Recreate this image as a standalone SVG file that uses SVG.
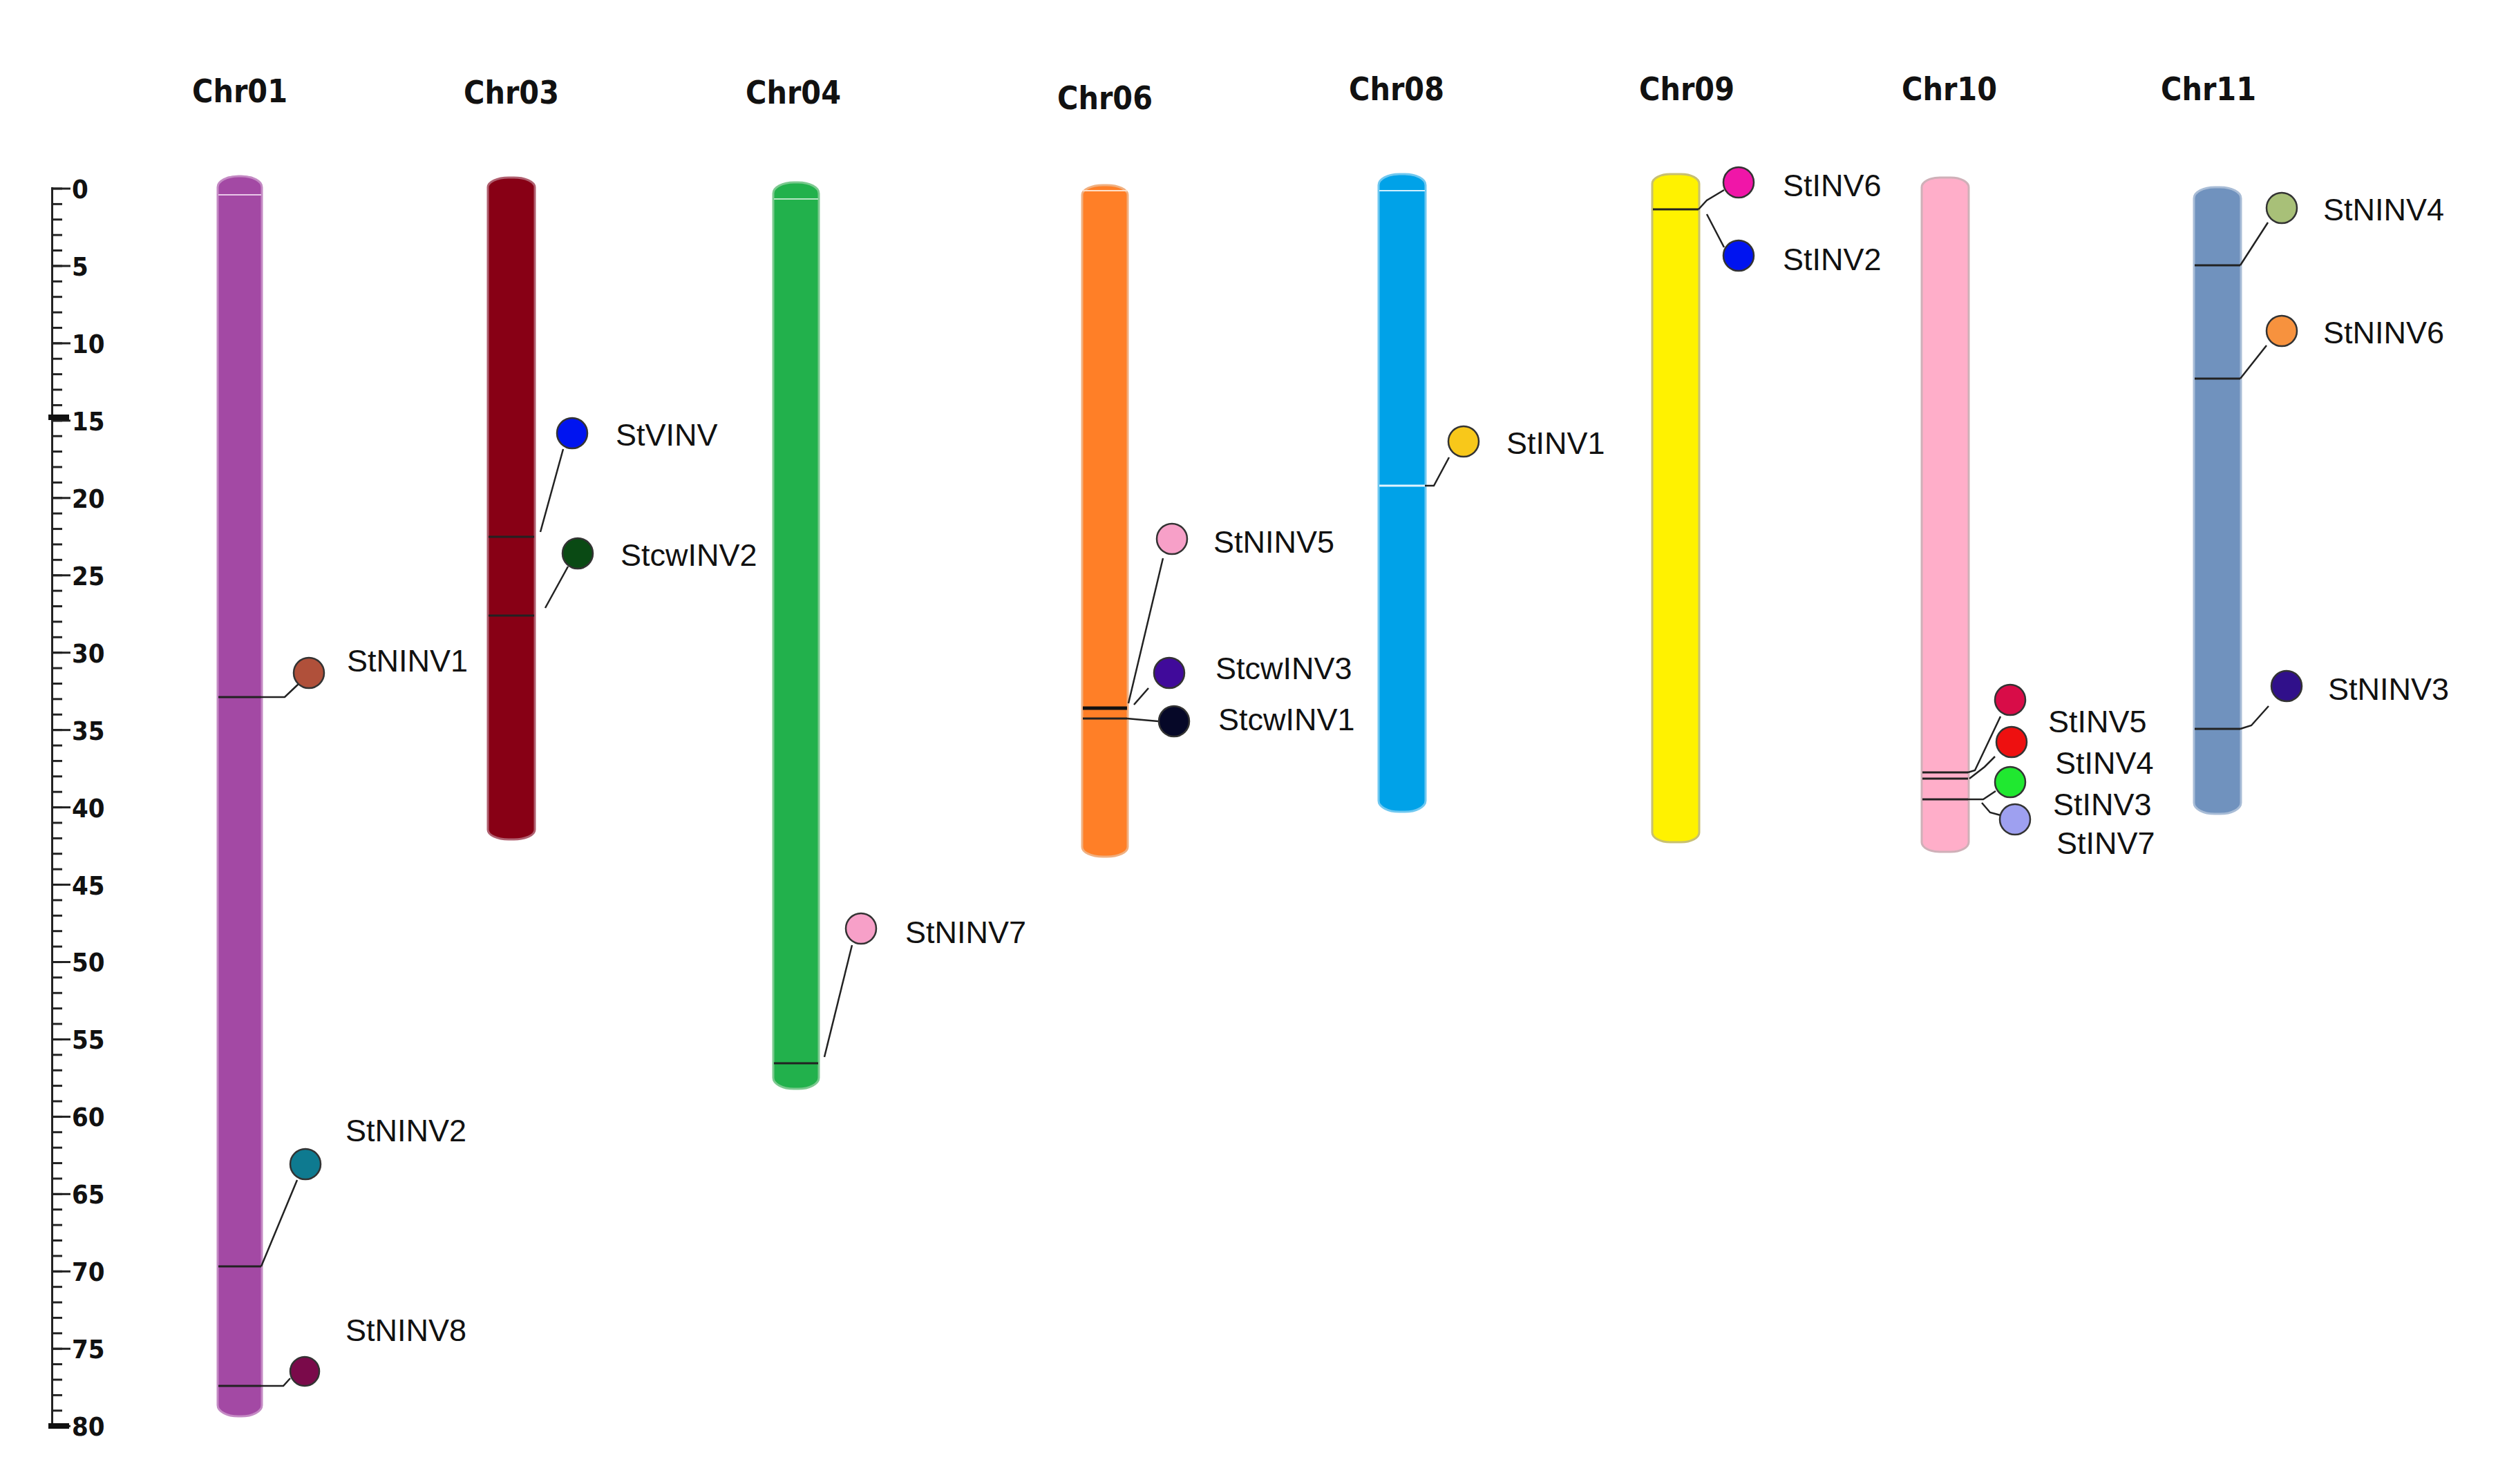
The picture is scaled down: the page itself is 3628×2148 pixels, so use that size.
<svg xmlns="http://www.w3.org/2000/svg" width="3628" height="2148" viewBox="0 0 3628 2148">
<defs>
<style>
.chrl{font-family:"DejaVu Sans",sans-serif;font-stretch:condensed;font-weight:bold;font-size:46px;text-anchor:middle;fill:#111}
.rl{font-family:"DejaVu Sans",sans-serif;font-stretch:condensed;font-weight:bold;font-size:38px;fill:#111}
.g{font-family:"Liberation Sans",Arial,sans-serif;font-size:45px;fill:#111;dominant-baseline:central}
.band{stroke:#222;stroke-width:3}
.lead{stroke:#222;stroke-width:2.5;fill:none}
.dot{stroke:#333;stroke-width:2.5}
</style>
<pattern id="minor" patternUnits="userSpaceOnUse" x="76" y="271.5" width="40" height="22.39"><rect x="0" y="0" width="14" height="3" fill="#222"/></pattern>
<pattern id="major" patternUnits="userSpaceOnUse" x="76" y="271.5" width="40" height="111.95"><rect x="0" y="0" width="26" height="3" fill="#222"/></pattern>
</defs>
<rect width="3628" height="2148" fill="#fff"/>
<g id="ruler">
<rect x="74" y="271" width="3" height="1797" fill="#222"/>
<rect x="76" y="271" width="40" height="1797" fill="url(#minor)"/>
<rect x="76" y="271" width="40" height="1797" fill="url(#major)"/>
<rect x="70" y="600" width="30" height="8" fill="#111"/>
<rect x="70" y="2060" width="30" height="8" fill="#111"/>
<text class="rl" x="104" y="287">0</text><text class="rl" x="104" y="399">5</text>
<text class="rl" x="104" y="511">10</text><text class="rl" x="104" y="623">15</text>
<text class="rl" x="104" y="735">20</text><text class="rl" x="104" y="847">25</text>
<text class="rl" x="104" y="959">30</text><text class="rl" x="104" y="1071">35</text>
<text class="rl" x="104" y="1183">40</text><text class="rl" x="104" y="1295">45</text>
<text class="rl" x="104" y="1406">50</text><text class="rl" x="104" y="1518">55</text>
<text class="rl" x="104" y="1630">60</text><text class="rl" x="104" y="1742">65</text>
<text class="rl" x="104" y="1854">70</text><text class="rl" x="104" y="1966">75</text>
<text class="rl" x="104" y="2078">80</text>
</g>
<g id="chr01"><text class="chrl" x="347" y="148">Chr01</text><rect x="315" y="255" width="64" height="1795" rx="30" ry="16" fill="#a349a4" stroke="#c48ac4" stroke-width="3"/><line x1="316" y1="282" x2="378" y2="282" stroke="#e8c8e8" stroke-width="2"/></g>
<g id="chr03"><text class="chrl" x="740" y="150">Chr03</text><rect x="706" y="257" width="68" height="958" rx="30" ry="14" fill="#880015" stroke="#b06070" stroke-width="3"/></g>
<g id="chr04"><text class="chrl" x="1148" y="150">Chr04</text><rect x="1119" y="264" width="66" height="1312" rx="30" ry="16" fill="#22b14c" stroke="#7cc98f" stroke-width="3"/><line x1="1120" y1="288" x2="1184" y2="288" stroke="#b8e6c5" stroke-width="2"/></g>
<g id="chr06"><text class="chrl" x="1599" y="158">Chr06</text><rect x="1566" y="268" width="66" height="972" rx="30" ry="14" fill="#ff7f27" stroke="#f0b080" stroke-width="3"/><line x1="1567" y1="276" x2="1631" y2="276" stroke="#ffe0c8" stroke-width="2"/></g>
<g id="chr08"><text class="chrl" x="2021" y="145">Chr08</text><rect x="1995" y="252" width="68" height="923" rx="30" ry="16" fill="#00a2e8" stroke="#70c8f0" stroke-width="3"/><line x1="1996" y1="276" x2="2062" y2="276" stroke="#d0f0ff" stroke-width="2"/></g>
<g id="chr09"><text class="chrl" x="2441" y="145">Chr09</text><rect x="2391" y="252" width="68" height="967" rx="26" ry="14" fill="#fff200" stroke="#c8c070" stroke-width="3"/></g>
<g id="chr10"><text class="chrl" x="2821" y="145">Chr10</text><rect x="2781" y="257" width="68" height="976" rx="26" ry="14" fill="#ffaec9" stroke="#cfb0b8" stroke-width="3"/></g>
<g id="chr11"><text class="chrl" x="3196" y="145">Chr11</text><rect x="3175" y="271" width="68" height="907" rx="30" ry="16" fill="#7092be" stroke="#a8bcd6" stroke-width="3"/></g>
<g id="connectors">
<line class="band" x1="316" y1="1009" x2="378" y2="1009"/><polyline class="lead" points="378,1009 412,1009 432,990"/>
<line class="band" x1="316" y1="1833" x2="378" y2="1833"/><polyline class="lead" points="378,1833 430,1708"/>
<line class="band" x1="316" y1="2006" x2="378" y2="2006"/><polyline class="lead" points="378,2006 410,2006 420,1995"/>
<line class="band" x1="707" y1="777" x2="773" y2="777" stroke="#5a0010"/><polyline class="lead" points="782,770 815,650"/>
<line class="band" x1="707" y1="891" x2="773" y2="891" stroke="#5a0010"/><polyline class="lead" points="789,880 822,820"/>
<line class="band" x1="1120" y1="1539" x2="1184" y2="1539"/><polyline class="lead" points="1193,1530 1233,1368"/>
<line x1="1567" y1="1025" x2="1631" y2="1025" stroke="#111" stroke-width="5"/><line class="band" x1="1567" y1="1040" x2="1631" y2="1040"/>
<polyline class="lead" points="1633,1018 1683,808"/><polyline class="lead" points="1641,1020 1662,996"/><polyline class="lead" points="1631,1040 1676,1044"/>
<line x1="1996" y1="703" x2="2062" y2="703" stroke="#e0f4ff" stroke-width="3"/><polyline class="lead" points="2062,703 2075,703 2097,662"/>
<line class="band" x1="2392" y1="303" x2="2458" y2="303" stroke="#999"/><polyline class="lead" points="2458,303 2470,290 2495,275"/><polyline class="lead" points="2470,310 2495,358"/>
<line class="band" x1="2782" y1="1118" x2="2848" y2="1118"/><line class="band" x1="2782" y1="1127" x2="2848" y2="1127"/><line class="band" x1="2782" y1="1157" x2="2848" y2="1157"/>
<polyline class="lead" points="2848,1118 2858,1115 2895,1037"/><polyline class="lead" points="2850,1127 2872,1110 2887,1095"/><polyline class="lead" points="2848,1157 2870,1157 2888,1145"/><polyline class="lead" points="2868,1162 2880,1176 2895,1180"/>
<line class="band" x1="3176" y1="384" x2="3242" y2="384"/><polyline class="lead" points="3242,384 3282,322"/>
<line class="band" x1="3176" y1="548" x2="3242" y2="548"/><polyline class="lead" points="3242,548 3280,500"/>
<line class="band" x1="3176" y1="1055" x2="3242" y2="1055"/><polyline class="lead" points="3242,1055 3258,1050 3283,1022"/>
</g>
<g id="StNINV1"><circle class="dot" cx="447" cy="974" r="22" fill="#b0503a"/><text class="g" x="502" y="956">StNINV1</text></g>
<g id="StNINV2"><circle class="dot" cx="442" cy="1685" r="22" fill="#0e7a90"/><text class="g" x="500" y="1636">StNINV2</text></g>
<g id="StNINV8"><circle class="dot" cx="441" cy="1985" r="21" fill="#7a0a4a"/><text class="g" x="500" y="1925">StNINV8</text></g>
<g id="StVINV"><circle class="dot" cx="828" cy="627" r="22" fill="#0014f0" stroke="#0014f0"/><text class="g" x="891" y="629">StVINV</text></g>
<g id="StcwINV2"><circle class="dot" cx="836" cy="801" r="22" fill="#0a4a14" stroke="#0a4a14"/><text class="g" x="898" y="803">StcwINV2</text></g>
<g id="StNINV7"><circle class="dot" cx="1246" cy="1344" r="22" fill="#f7a0c8"/><text class="g" x="1310" y="1349">StNINV7</text></g>
<g id="StNINV5"><circle class="dot" cx="1696" cy="780" r="22" fill="#f7a0c8"/><text class="g" x="1756" y="784">StNINV5</text></g>
<g id="StcwINV3"><circle class="dot" cx="1692" cy="974" r="22" fill="#400a9a"/><text class="g" x="1759" y="967">StcwINV3</text></g>
<g id="StcwINV1"><circle class="dot" cx="1699" cy="1044" r="22" fill="#060828"/><text class="g" x="1763" y="1041">StcwINV1</text></g>
<g id="StINV1"><circle class="dot" cx="2118" cy="639" r="22" fill="#f8c81a"/><text class="g" x="2180" y="641">StINV1</text></g>
<g id="StINV6"><circle class="dot" cx="2516" cy="264" r="22" fill="#f016a8"/><text class="g" x="2580" y="268">StINV6</text></g>
<g id="StINV2"><circle class="dot" cx="2516" cy="370" r="22" fill="#0014f0" stroke="#0014f0"/><text class="g" x="2580" y="375">StINV2</text></g>
<g id="StINV5"><circle class="dot" cx="2909" cy="1013" r="22" fill="#d80c48"/><text class="g" x="2964" y="1044">StINV5</text></g>
<g id="StINV4"><circle class="dot" cx="2911" cy="1074" r="22" fill="#ee1010"/><text class="g" x="2974" y="1104">StINV4</text></g>
<g id="StINV3"><circle class="dot" cx="2909" cy="1132" r="22" fill="#20e830"/><text class="g" x="2971" y="1164">StINV3</text></g>
<g id="StINV7"><circle class="dot" cx="2916" cy="1186" r="22" fill="#9ea0f0"/><text class="g" x="2976" y="1220">StINV7</text></g>
<g id="StNINV4"><circle class="dot" cx="3302" cy="301" r="22" fill="#a8c078"/><text class="g" x="3362" y="303">StNINV4</text></g>
<g id="StNINV6"><circle class="dot" cx="3302" cy="479" r="22" fill="#f7923e"/><text class="g" x="3362" y="481">StNINV6</text></g>
<g id="StNINV3"><circle class="dot" cx="3309" cy="993" r="22" fill="#30108a"/><text class="g" x="3369" y="997">StNINV3</text></g>
</svg>
